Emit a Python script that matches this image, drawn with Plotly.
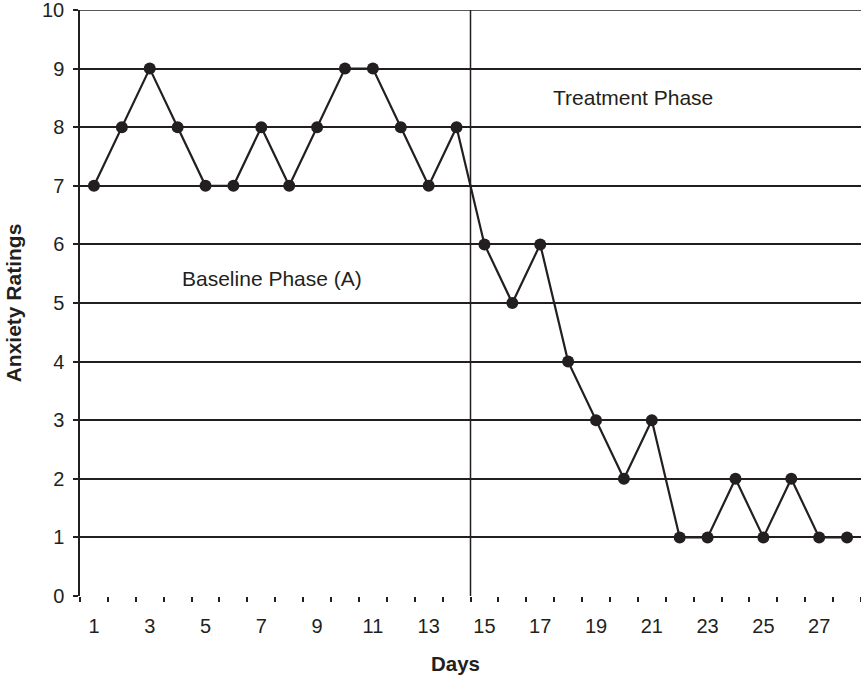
import plotly.graph_objects as go

days = list(range(1, 29))
ratings = [7, 8, 9, 8, 7, 7, 8, 7, 8, 9, 9, 8, 7, 8,
           6, 5, 6, 4, 3, 2, 3, 1, 1, 2, 1, 2, 1, 1]
x_labels = [str(d) for d in range(1, 28, 2)]
y_ticks = list(range(0, 11))
phase_change = 14.5
y_top = 10

font_family = "Liberation Sans, Arial, Helvetica, sans-serif"
ink = "#231f20"

fig = go.Figure()

# phase divider between baseline and treatment
fig.add_shape(type="line", x0=phase_change, x1=phase_change, y0=0, y1=y_top,
              xref="x", yref="y", line=dict(color=ink, width=1.5))
# top border line (gridline at the range edge is not drawn by plotly)
fig.add_shape(type="line", x0=0, x1=1, y0=y_top, y1=y_top,
              xref="paper", yref="y", line=dict(color=ink, width=1.5))

fig.add_trace(go.Scatter(
    x=days, y=ratings,
    mode="lines+markers",
    line=dict(color=ink, width=2.2),
    marker=dict(color=ink, size=12),
    showlegend=False,
    cliponaxis=False,
))

fig.add_annotation(x=7.37, y=5.42, text="Baseline Phase (A)",
                   showarrow=False, font=dict(size=21, color=ink))
fig.add_annotation(x=20.33, y=8.5, text="Treatment Phase",
                   showarrow=False, font=dict(size=21, color=ink))
fig.add_annotation(x=(455 - 80) / 781, y=-0.115, xref="paper", yref="paper",
                   text="<b>Days</b>", showarrow=False, yanchor="middle",
                   font=dict(size=20.5, color=ink))

fig.update_layout(
    width=861, height=682,
    margin=dict(l=80, r=0, t=10, b=86),
    plot_bgcolor="white", paper_bgcolor="white",
    font=dict(family=font_family, size=20, color=ink),
    xaxis=dict(
        range=[0.5, 28.5],
        tickmode="array",
        tickvals=list(range(1, 28, 2)),
        ticktext=x_labels,
        ticks="",
        ticklabelstandoff=16,
        showgrid=False,
        zeroline=False,
        showline=False,
        automargin=False,
        minor=dict(tickmode="array", tickvals=[d - 0.5 for d in range(1, 30)],
                   ticks="outside", ticklen=5, tickcolor=ink, tickwidth=1.5,
                   showgrid=False),
    ),
    yaxis=dict(
        range=[0, y_top],
        tickmode="array",
        tickvals=y_ticks,
        ticks="outside", ticklen=5, tickcolor=ink, tickwidth=1.5,
        ticklabelstandoff=5,
        ticklabeloverflow="allow",
        showgrid=True, gridcolor=ink, gridwidth=1.5,
        zeroline=False,
        showline=True, linecolor=ink, linewidth=1.5,
        automargin=False,
        title=dict(text="<b>Anxiety Ratings</b>", font=dict(size=21), standoff=15),
    ),
)

fig.write_html("out.html", config={"displayModeBar": False},
               post_script="document.body.style.margin='0';")
